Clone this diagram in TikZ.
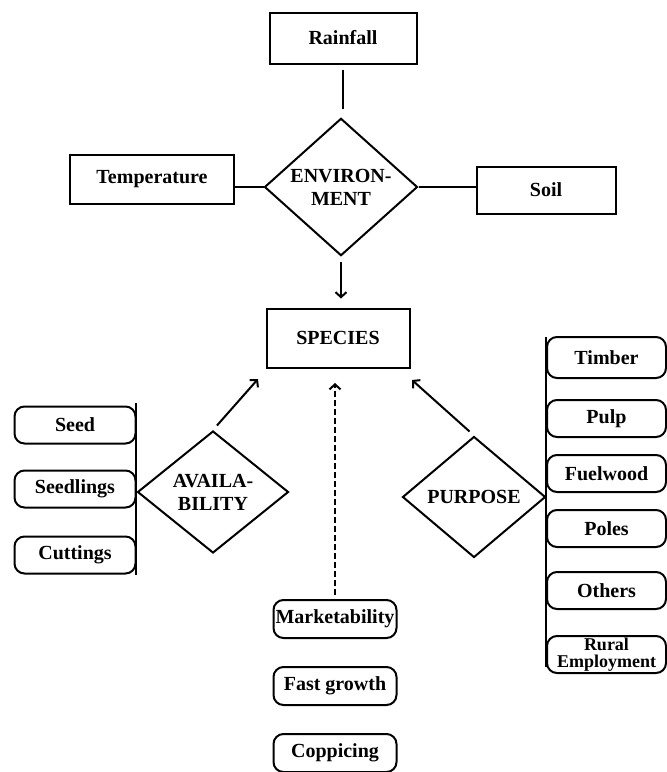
\documentclass[tikz,border=0pt]{standalone}
\usepackage{fontspec}
\setmainfont{Liberation Serif}
\usetikzlibrary{arrows,arrows.meta,positioning,shapes.geometric}
\tikzset{
    sq/.style={
           rectangle,
           draw=black, line width=2pt,
           inner sep=2pt,
           text centered,
           },
}
\tikzset{
    pill/.style={
           rectangle,
           rounded corners=10pt,
           draw=black, line width=2pt,
           minimum height=37pt,
           inner sep=1pt,
           text centered,
           },
}
\tikzset{
    dmd/.style={
           diamond,
           draw=black, line width=2pt,
           inner sep=0pt,
           align=center,
           },
}

\begin{document}
\begin{tikzpicture}[x=1pt,y=-1pt,font=\fontsize{20}{23}\selectfont\bfseries,line width=2pt,
    >={Straight Barb[length=5pt,width=11pt]}]
\useasboundingbox (0,0) rectangle (667,772);
% environment
\node[sq,minimum width=147pt,minimum height=51pt](rain) at (343,38){Rainfall};
\node[dmd,minimum width=153pt,minimum height=116pt](env) at (341,187){ENVIRON-\\MENT};
\node[sq,minimum width=164pt,minimum height=49pt](temp) at (152,179){Temperature};
\node[sq,minimum width=139pt,minimum height=47pt](soil) at (546,190){Soil};
\node[sq,minimum width=143pt,minimum height=59pt](spec) at (338,338){SPECIES};
\draw[shorten <=5pt,shorten >=8pt] (rain) -- (env.north -| rain);
\draw (env.west) -- (env.west -| temp.east);
\draw (env.east) -- (env.east -| soil.west);
\draw[->,shorten <=5pt,shorten >=9pt] (env.south) -- (env.south |- spec.north);
% availability
\node[dmd,minimum width=151pt,minimum height=122pt](avail) at (213,492){AVAILA-\\BILITY};
\node[pill,minimum width=121pt](seed) at (75,425){Seed};
\node[pill,minimum width=121pt,below = 25pt of seed](seedl){Seedlings};
\node[pill,minimum width=121pt,below = 27pt of seedl](cutt){Cuttings};
\coordinate (lt) at (136,403);
\coordinate (lb) at (136,575);
\draw (lt) -- (lb);
\coordinate (avtip) at (258,379);
\draw[->,shorten <=6pt] (avail.north) -- (avtip);
% purpose
\node[dmd,minimum width=143pt,minimum height=121pt](purp) at (474,497){PURPOSE};
\node[pill,minimum width=119pt,minimum height=41pt](timb) at (606.5,357.5){Timber};
\node[pill,minimum width=119pt,below = 20pt of timb](pulp){Pulp};
\node[pill,minimum width=119pt,below = 16pt of pulp](fuel){Fuelwood};
\node[pill,minimum width=119pt,below = 16pt of fuel](pole){Poles};
\node[pill,minimum width=119pt,below = 23pt of pole](oth){Others};
\node[pill,minimum width=119pt,below = 25pt of oth,align=center,font=\fontsize{18}{17}\selectfont\bfseries](rural){Rural\\Employment};
\coordinate (rt) at (546,337);
\coordinate (rb) at (546,667);
\draw (rt) -- (rb);
\coordinate (pptip) at (412,380);
\draw[->,shorten <=6pt] (purp.north) -- (pptip);
% other factors
\node[pill,minimum width=123pt,minimum height=38pt](mkt) at (335,619){Marketability};
\node[pill,minimum width=123pt,minimum height=38pt,below = 27pt of mkt](fast){Fast growth};
\node[pill,minimum width=123pt,minimum height=38pt,below = 27pt of fast](copp){Coppicing};
\coordinate (mktip) at (335,383);
\draw[->,dash pattern=on 6pt off 3pt,shorten <=4pt] (mkt.north) -- (mktip);
\end{tikzpicture}
\end{document}
